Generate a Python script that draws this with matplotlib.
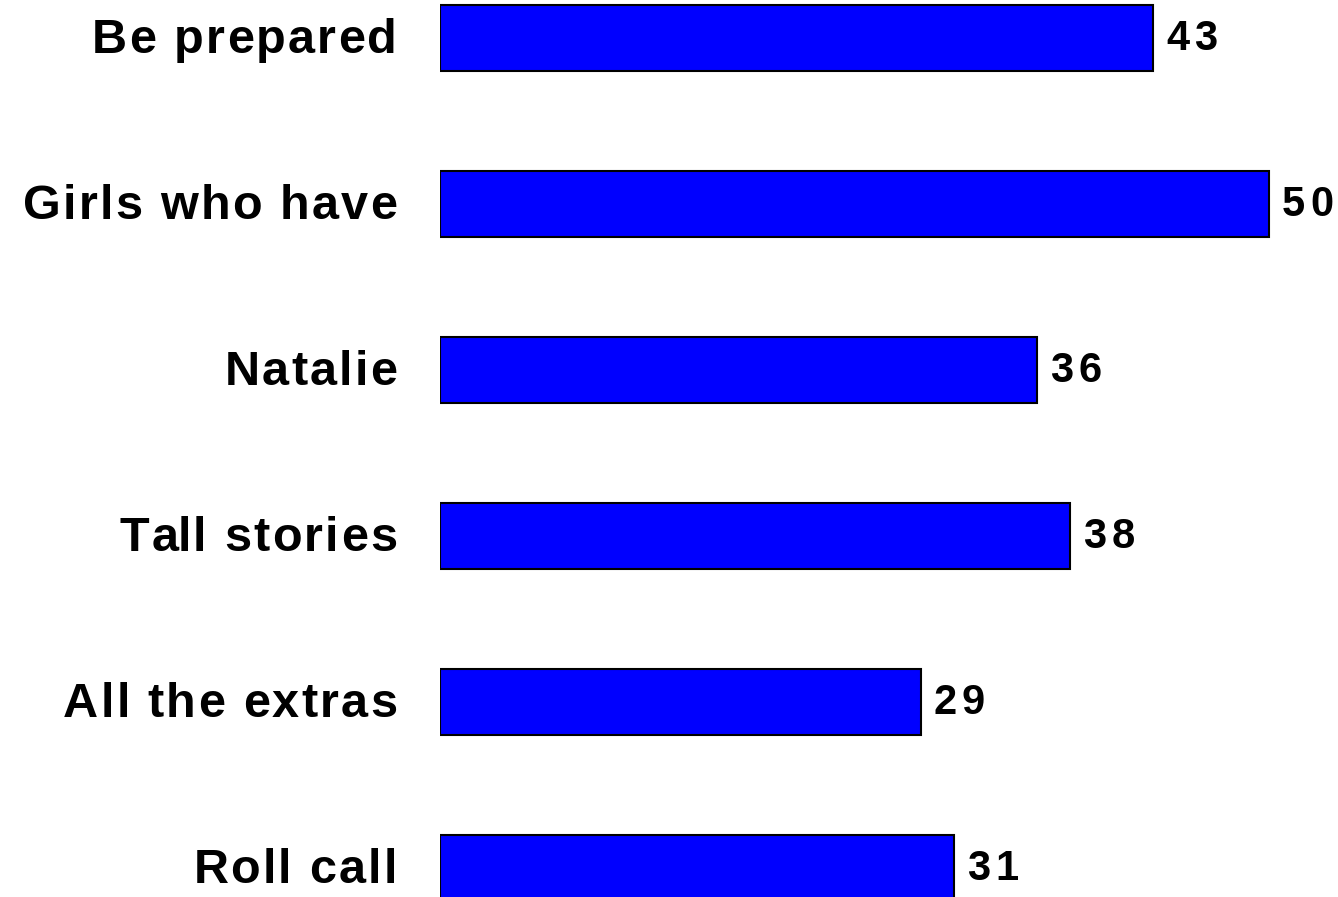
import matplotlib
matplotlib.use("Agg")
import matplotlib.pyplot as plt
from matplotlib.transforms import offset_copy
from matplotlib.font_manager import FontProperties

# Chart data
categories = ["Be prepared", "Girls who have", "Natalie", "Tall stories", "All the extras", "Roll call"]
values = [43, 50, 36, 38, 29, 31]

plt.rcParams["font.family"] = ["Liberation Sans", "DejaVu Sans"]

fig = plt.figure(figsize=(13.38, 8.97), dpi=100)
ax = fig.add_axes([440 / 1338, 0, 898 / 1338, 1])

ypos = list(range(len(categories)))
ax.barh(ypos, values, height=0.4, color="#0000FF", edgecolor="black", linewidth=1.5)

ax.set_xlim(0, 898 / 16.58)
ax.set_ylim(5.175, -0.229)
ax.axis("off")

renderer = fig.canvas.get_renderer()


# draw a string char by char with extra letter spacing (in pixels)
def spaced_text(x, y, s, size, spacing, dx, dy, align="left"):
    prop = FontProperties(family="Liberation Sans", weight="bold", size=size)

    def width(t):
        if not t:
            return 0.0
        return renderer.get_text_width_height_descent(t, prop, ismath=False)[0]

    total = width(s) + spacing * (len(s) - 1)
    start = dx - total if align == "right" else dx
    for i, ch in enumerate(s):
        if ch == " ":
            continue
        off = start + width(s[:i]) + spacing * i
        tr = offset_copy(ax.transData, fig=fig, x=off, y=dy, units="dots")
        ax.text(x, y, ch, transform=tr, ha="left", va="baseline",
                fontproperties=prop, clip_on=False)


# category labels left of the bars
for y, cat in zip(ypos, categories):
    spaced_text(0, y, cat, 35, 2.2, -43, -15, align="right")

# value labels right of the bars
for y, v in zip(ypos, values):
    spaced_text(v, y, str(v), 30, 5, 13, -12)

fig.savefig("out.png", dpi=100)
